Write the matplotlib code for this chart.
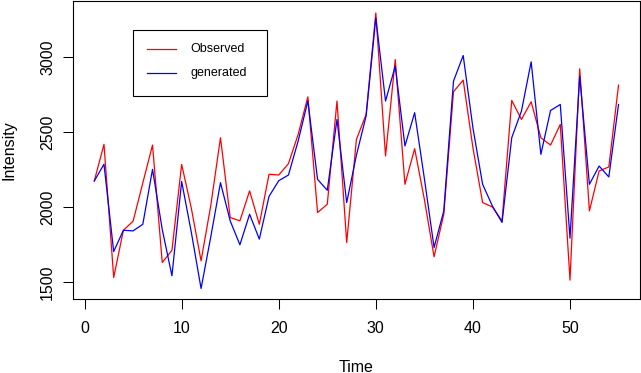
import numpy as np
import matplotlib
matplotlib.use("Agg")
import matplotlib.pyplot as plt
from matplotlib.lines import Line2D
from matplotlib.patches import Rectangle

plt.rcParams['font.family'] = ['Liberation Sans', 'DejaVu Sans']

# --- data ---
time = np.arange(1, 56)
observed = [2173, 2418, 1529, 1844, 1905, 2160, 2413, 1629, 1710, 2284,
            1990, 1640, 2009, 2462, 1929, 1907, 2107, 1884, 2218, 2213,
            2289, 2484, 2735, 1962, 2018, 2707, 1762, 2450, 2618, 3295,
            2340, 2984, 2151, 2389, 2050, 1667, 1951, 2769, 2847, 2396,
            2029, 2000, 1907, 2711, 2584, 2702, 2462, 2413, 2551, 1511,
            2922, 1973, 2240, 2267, 2813]
generated = [2173, 2285, 1702, 1844, 1840, 1884, 2251, 1850, 1540, 2170,
             1829, 1455, 1800, 2162, 1907, 1747, 1951, 1785, 2070, 2175,
             2213, 2440, 2707, 2184, 2111, 2584, 2029, 2345, 2607, 3262,
             2707, 2940, 2407, 2629, 2190, 1729, 1973, 2840, 3011, 2529,
             2151, 2007, 1896, 2462, 2640, 2969, 2351, 2644, 2684, 1791,
             2873, 2151, 2273, 2200, 2684]
x_ticks = [0, 10, 20, 30, 40, 50]
y_ticks = [1500, 2000, 2500, 3000]
legend_labels = ['Observed', 'generated']

W, H = 641, 373
fig = plt.figure(figsize=(W / 100, H / 100), dpi=100)
ax = fig.add_axes([73.3 / W, 1 - 299 / H, (639.5 - 73.3) / W, 298 / H])

ax.plot(time, observed, color='red', lw=0.9)
ax.plot(time, generated, color='blue', lw=0.9)

ax.set_xlim(-1.16, 57.16)
ax.set_ylim(1385, 3375)
ax.set_xticks(x_ticks)
ax.set_yticks(y_ticks)
ax.set_yticklabels([str(v) for v in y_ticks], rotation=90, va='center')
ax.tick_params(length=7, width=0.75, labelsize=11.5, colors='black')
ax.tick_params(axis='x', pad=9)
ax.tick_params(axis='y', pad=6)
for s in ax.spines.values():
    s.set_linewidth(0.8)

fig.text(356 / W, 1 - 367 / H, 'Time', ha='center', va='center', fontsize=11.5)
fig.text(8.5 / W, 1 - 150 / H, 'Intensity', ha='center', va='center',
         rotation=90, fontsize=11.5)

# legend box drawn like R's legend()
def px(x, y):
    return x / W, 1 - y / H

x0, y0 = px(133.3, 96)
x1, y1 = px(267.3, 30)
fig.add_artist(Rectangle((x0, y0), x1 - x0, y1 - y0, transform=fig.transFigure,
                         fill=False, edgecolor='black', lw=0.8))
for lab, col, yy in zip(legend_labels, ['red', 'blue'], [49, 73]):
    a, b = px(147, yy)
    c, _ = px(176, yy)
    fig.add_artist(Line2D([a, c], [b, b], transform=fig.transFigure,
                          color=col, lw=0.9))
    fig.text(*px(190, yy), lab, ha='left', va='center', fontsize=9)

fig.savefig('out.png', dpi=100)
